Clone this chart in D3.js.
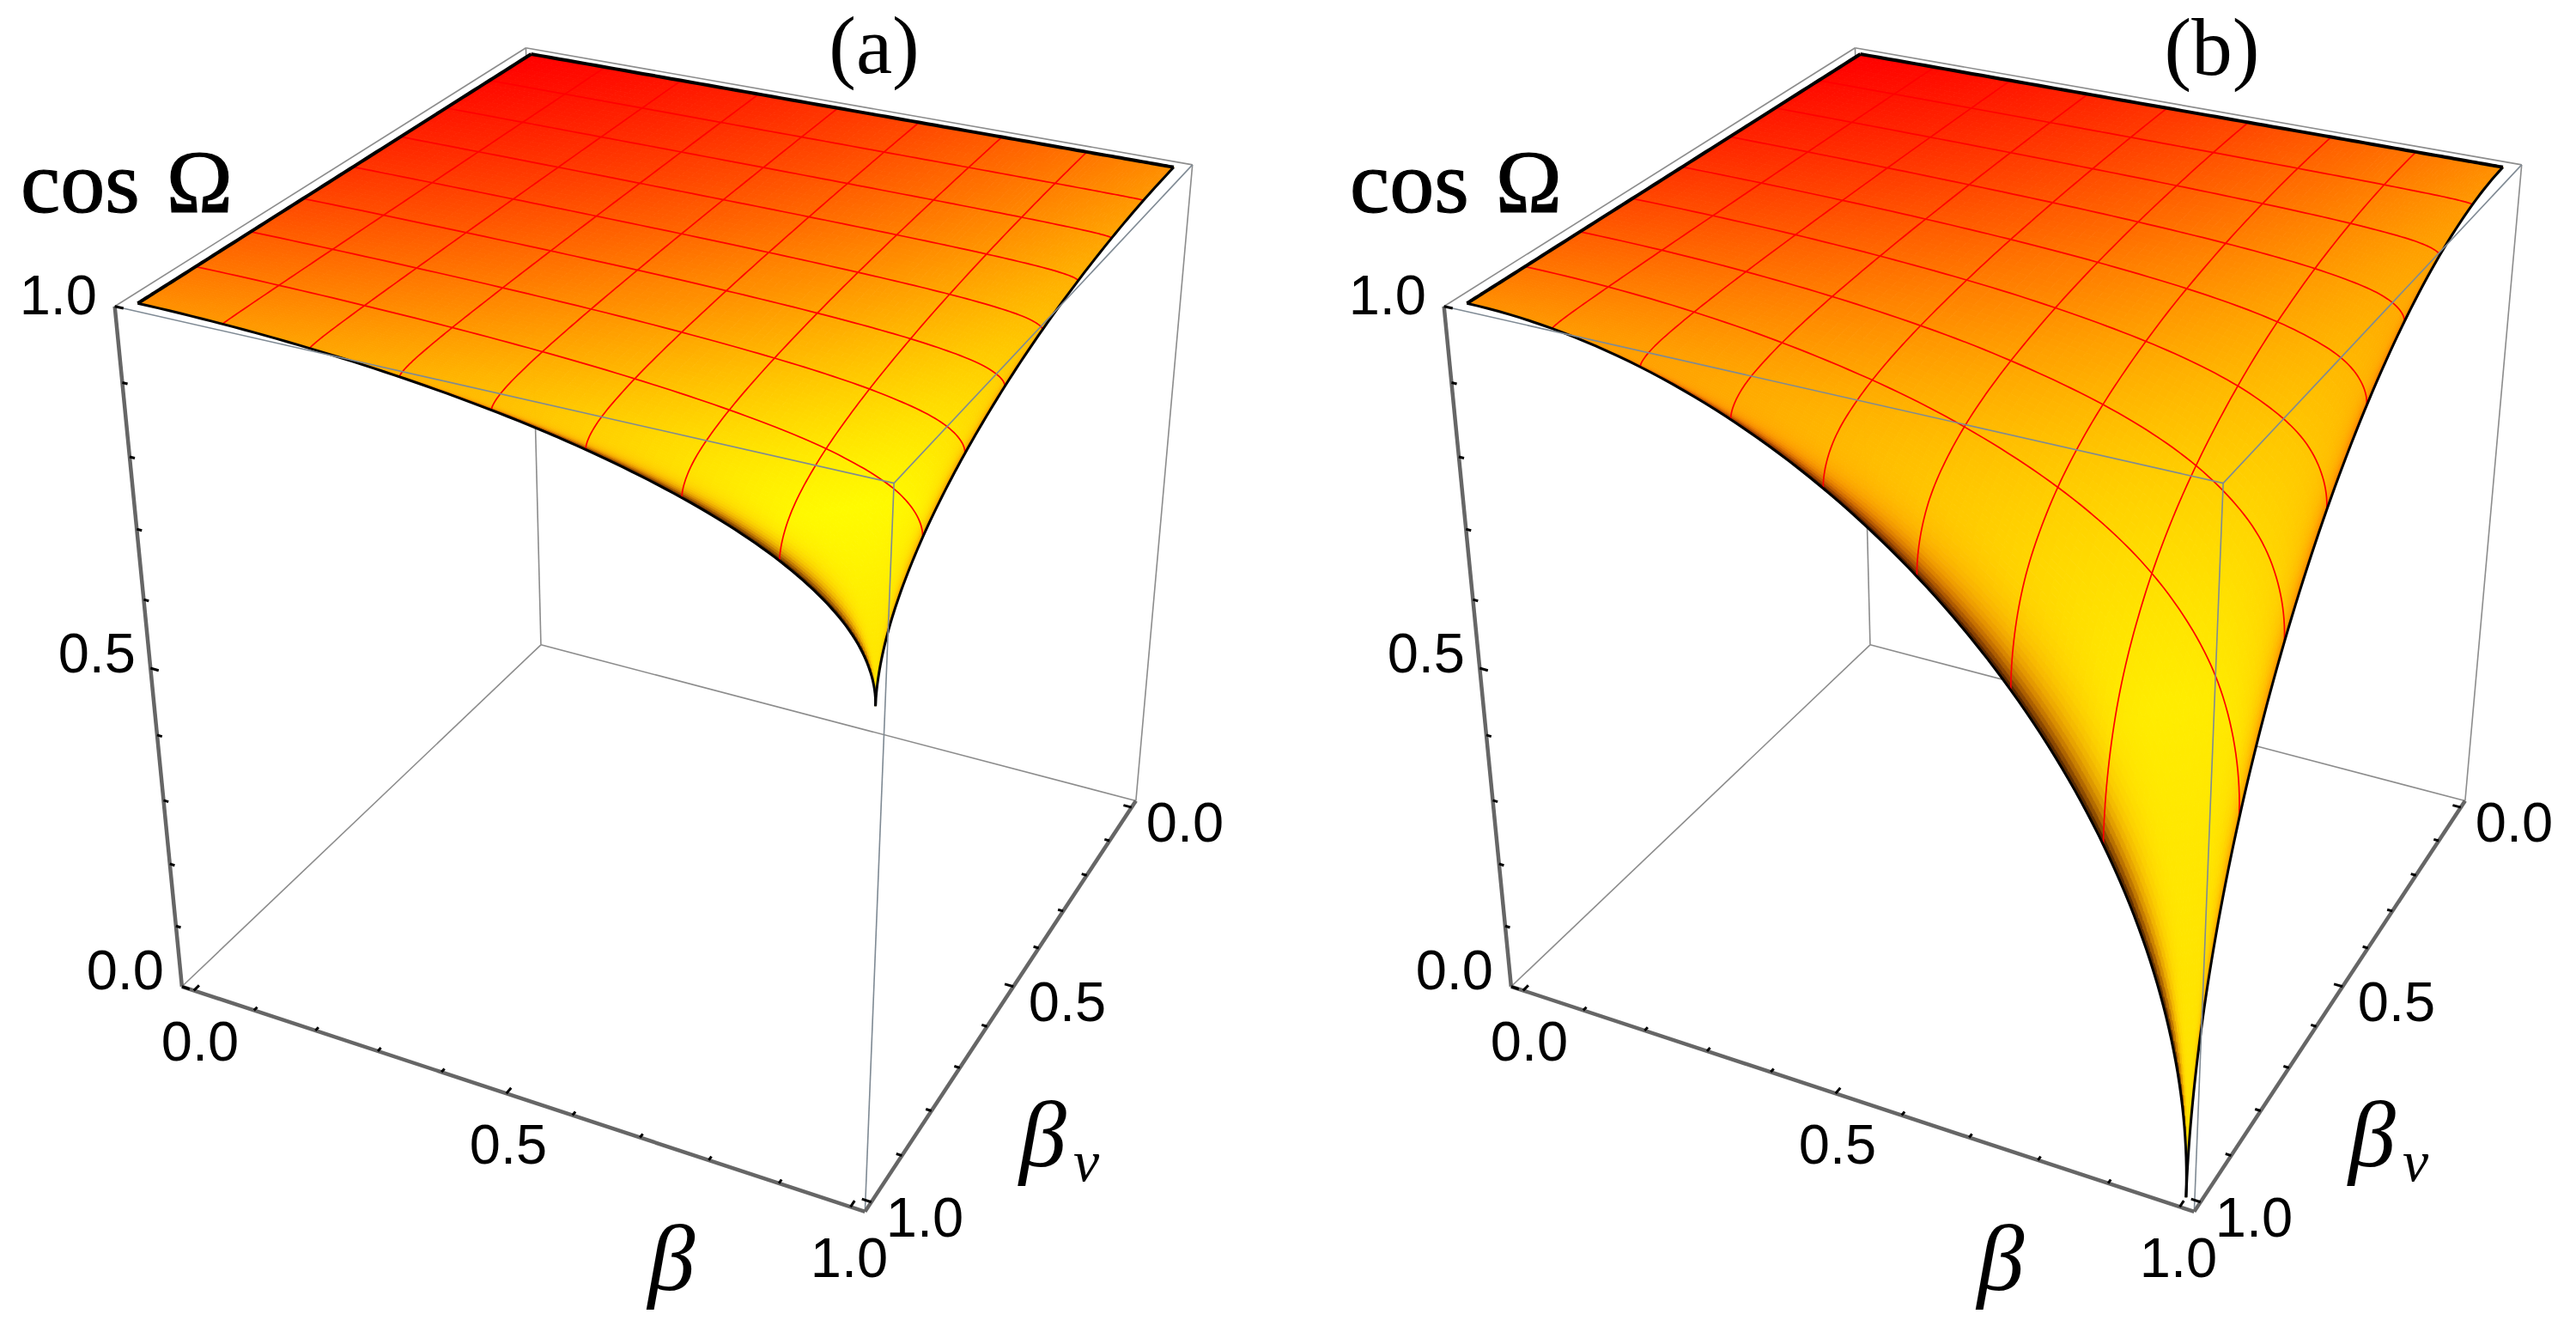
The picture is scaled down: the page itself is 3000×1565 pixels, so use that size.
<!DOCTYPE html>
<html>
<head>
<meta charset="utf-8">
<script src="https://cdn.jsdelivr.net/npm/d3@7.9.0/dist/d3.min.js"></script>
<style>
  html, body { margin: 0; padding: 0; background: #fff; }
  text { fill: #000; }
  .tick-label { font-family: "Liberation Sans", sans-serif; font-size: 65px; }
  .serif { font-family: "Liberation Serif", serif; }
  .greek { font-family: "Liberation Serif", serif; font-style: italic; }
</style>
</head>
<body>
<svg id="chart" width="3000" height="1565"></svg>
<script>
// Values
const betaGrid = [0, 0.2, 0.4, 0.6, 0.8, 0.9, 0.97, 1];
const cosOmegaA0 = [1, 1, 1, 1, 1, 1, 1, 1];
const cosOmegaA1 = [1, 0.9999, 0.9998, 0.9994, 0.9987, 0.9980, 0.9969, 0.9949];
const cosOmegaA2 = [1, 0.9998, 0.9990, 0.9976, 0.9946, 0.9916, 0.9870, 0.9789];
const cosOmegaA3 = [1, 0.9994, 0.9976, 0.9939, 0.9864, 0.9789, 0.9678, 0.9487];
const cosOmegaA4 = [1, 0.9987, 0.9946, 0.9864, 0.9701, 0.9542, 0.9316, 0.8944];
const cosOmegaA5 = [1, 0.9980, 0.9916, 0.9789, 0.9542, 0.9308, 0.8983, 0.8473];
const cosOmegaA6 = [1, 0.9969, 0.9870, 0.9678, 0.9316, 0.8983, 0.8541, 0.7884];
const cosOmegaA7 = [1, 0.9949, 0.9789, 0.9487, 0.8944, 0.8473, 0.7884, 0.7071];
const cosOmegaB0 = [1, 1, 1, 1, 1, 1, 1, 1];
const cosOmegaB1 = [1, 0.9998, 0.9991, 0.9977, 0.9949, 0.9920, 0.9877, 0.9798];
const cosOmegaB2 = [1, 0.9991, 0.9962, 0.9904, 0.9785, 0.9663, 0.9483, 0.9165];
const cosOmegaB3 = [1, 0.9977, 0.9904, 0.9756, 0.9460, 0.9164, 0.8733, 0.8000];
const cosOmegaB4 = [1, 0.9949, 0.9785, 0.9460, 0.8824, 0.8211, 0.7358, 0.6000];
const cosOmegaB5 = [1, 0.9920, 0.9663, 0.9164, 0.8211, 0.7326, 0.6139, 0.4359];
const cosOmegaB6 = [1, 0.9877, 0.9483, 0.8733, 0.7358, 0.6139, 0.4591, 0.2431];
const cosOmegaB7 = [1, 0.9798, 0.9165, 0.8000, 0.6000, 0.4359, 0.2431, 0];
const panelA = [cosOmegaA0, cosOmegaA1, cosOmegaA2, cosOmegaA3, cosOmegaA4, cosOmegaA5, cosOmegaA6, cosOmegaA7];
const panelB = [cosOmegaB0, cosOmegaB1, cosOmegaB2, cosOmegaB3, cosOmegaB4, cosOmegaB5, cosOmegaB6, cosOmegaB7];
const meshLines = [0.125, 0.25, 0.375, 0.5, 0.625, 0.75, 0.875];
const minorTicks = [0, 0.1, 0.2, 0.3, 0.4, 0.5, 0.6, 0.7, 0.8, 0.9, 1];

const svg = d3.select("#chart");

// Axis scales into the unit box; beta axes have a little padding like Mathematica
const xScale = d3.scaleLinear().domain([-0.02, 1.02]).range([0, 1]);
const yScale = d3.scaleLinear().domain([-0.02, 1.02]).range([0, 1]);
const zScale = d3.scaleLinear().domain([0, 1]).range([0, 1]);

// Where the box corners sit on the page, used to fit the camera
const boxCorners = [
  [0, 0, 1, 612, 56], [0, 1, 1, 134, 356], [1, 0, 1, 1389, 192], [1, 1, 1, 1041, 563],
  [0, 0, 0, 630, 751], [0, 1, 0, 212, 1149], [1, 0, 0, 1323, 932], [1, 1, 0, 1007, 1411]
];

function solve(A, b) {
  const n = b.length;
  const m = A.map((row, i) => [...row, b[i]]);
  for (let c = 0; c < n; c++) {
    let p = c;
    for (let r = c + 1; r < n; r++) if (Math.abs(m[r][c]) > Math.abs(m[p][c])) p = r;
    [m[c], m[p]] = [m[p], m[c]];
    for (let r = 0; r < n; r++) {
      if (r === c) continue;
      const f = m[r][c] / m[c][c];
      for (let k = c; k <= n; k++) m[r][k] -= f * m[c][k];
    }
  }
  return m.map((row, i) => row[n] / row[i]);
}

// Least squares fit of the 3x4 projection matrix
function fitCamera(points) {
  const rows = [], rhs = [];
  points.forEach(([x, y, z, u, v]) => {
    rows.push([x, y, z, 1, 0, 0, 0, 0, -u * x, -u * y, -u * z]); rhs.push(u);
    rows.push([0, 0, 0, 0, x, y, z, 1, -v * x, -v * y, -v * z]); rhs.push(v);
  });
  const AtA = d3.range(11).map(i => d3.range(11).map(j => d3.sum(rows, r => r[i] * r[j])));
  const Atb = d3.range(11).map(i => d3.sum(rows, (r, k) => r[i] * rhs[k]));
  return solve(AtA, Atb);
}
const cam = fitCamera(boxCorners);

function project(beta, betaV, z) {
  const x = xScale(beta), y = yScale(betaV), h = zScale(z);
  const w = cam[8] * x + cam[9] * y + cam[10] * h + 1;
  return [(cam[0] * x + cam[1] * y + cam[2] * h + cam[3]) / w,
          (cam[4] * x + cam[5] * y + cam[6] * h + cam[7]) / w];
}

// Smooth shading between the read values: cubic in sqrt(1 - beta^2), where the surface has no cusp
const knots = betaGrid.map(b => Math.sqrt(1 - b * b));

function hermite(values, s) {
  const n = knots.length;
  let i = 0;
  while (i < n - 2 && s < knots[i + 1]) i++;
  const slope = k => {
    const a = Math.max(k - 1, 0), b = Math.min(k + 1, n - 1);
    return (values[b] - values[a]) / (knots[b] - knots[a]);
  };
  const h = knots[i + 1] - knots[i], t = (s - knots[i]) / h;
  const t2 = t * t, t3 = t2 * t;
  return (2 * t3 - 3 * t2 + 1) * values[i] + (t3 - 2 * t2 + t) * h * slope(i)
       + (-2 * t3 + 3 * t2) * values[i + 1] + (t3 - t2) * h * slope(i + 1);
}

function surfaceAt(table, beta, betaV) {
  const s = Math.sqrt(Math.max(0, 1 - beta * beta)), sv = Math.sqrt(Math.max(0, 1 - betaV * betaV));
  return Math.min(1, hermite(table.map(row => hermite(row, sv)), s));
}

const clamp01 = v => Math.max(0, Math.min(1, v));

// Rough stand-in for the coloured lights: red to yellow across the sheet, dark where it falls towards beta_v
function faceColor(beta, betaV, dzB, dzV) {
  const len = Math.sqrt(1 + dzB * dzB + dzV * dzV);
  const tilt = (Math.abs(dzV) - Math.abs(dzB)) / len;
  let green = 255 * clamp01(0.5 * (beta + betaV) / 2 + 0.62 * (beta * beta + betaV * betaV) / 2);
  let red = 255;
  green *= 1 - 0.12 * clamp01(1 - 1 / len);
  if (tilt > 0) {
    green *= 1 - 0.5 * Math.pow(tilt, 4);
    const dark = 1 - 0.78 * Math.pow(tilt, 9);
    red *= dark; green *= dark;
  } else {
    green *= 1 - 0.35 * Math.pow(-tilt, 7);
  }
  return `rgb(${Math.round(red)},${Math.round(green)},0)`;
}

function drawPanel(id, table, dx, title, titleX, titleY) {
  const g = svg.append("g").attr("id", id).attr("transform", `translate(${dx},0)`);
  const lineGen = d3.line();
  const edge = (a, b) => lineGen([project(...a), project(...b)]);
  const lo = -0.02, hi = 1.02;

  // box edges behind the surface
  const backEdges = [
    [[lo, lo, 1], [lo, hi, 1]], [[lo, lo, 1], [hi, lo, 1]], [[lo, lo, 1], [lo, lo, 0]],
    [[lo, lo, 0], [lo, hi, 0]], [[lo, lo, 0], [hi, lo, 0]], [[hi, lo, 1], [hi, lo, 0]]
  ];
  g.append("g").selectAll("path").data(backEdges).join("path")
    .attr("d", d => edge(d[0], d[1]))
    .attr("fill", "none").attr("stroke", "#8c8c8c").attr("stroke-width", 1.6);

  // surface facets, far corner first
  const steps = 100;
  const param = d3.range(steps + 1).map(i => Math.sin(i / steps * Math.PI / 2));
  const grid = param.map(b => param.map(v => surfaceAt(table, b, v)));
  const faces = [];
  for (let i = 0; i < steps; i++) {
    for (let j = 0; j < steps; j++) faces.push({ i, j });
  }
  faces.sort((a, b) => (a.i + a.j) - (b.i + b.j));
  g.append("g").selectAll("path").data(faces).join("path")
    .attr("d", ({ i, j }) => lineGen([
      project(param[i], param[j], grid[i][j]),
      project(param[i + 1], param[j], grid[i + 1][j]),
      project(param[i + 1], param[j + 1], grid[i + 1][j + 1]),
      project(param[i], param[j + 1], grid[i][j + 1])
    ]) + "Z")
    .each(function ({ i, j }) {
      const dzB = (grid[i + 1][j] - grid[i][j]) / (param[i + 1] - param[i]);
      const dzV = (grid[i][j + 1] - grid[i][j]) / (param[j + 1] - param[j]);
      const c = faceColor((param[i] + param[i + 1]) / 2, (param[j] + param[j + 1]) / 2, dzB, dzV);
      d3.select(this).attr("fill", c).attr("stroke", c).attr("stroke-width", 0.9);
    });

  // mesh lines and boundary
  const sample = param;
  const curve = (fixed, alongBeta) => lineGen(sample.map(p => alongBeta
    ? project(p, fixed, surfaceAt(table, p, fixed))
    : project(fixed, p, surfaceAt(table, fixed, p))));
  const mesh = g.append("g").attr("fill", "none").attr("stroke", "#ff0000").attr("stroke-width", 1.7);
  meshLines.forEach(m => {
    mesh.append("path").attr("d", curve(m, true));
    mesh.append("path").attr("d", curve(m, false));
  });
  const rim = g.append("g").attr("fill", "none").attr("stroke", "#000").attr("stroke-linejoin", "round");
  rim.append("path").attr("d", curve(0, true)).attr("stroke-width", 4);
  rim.append("path").attr("d", curve(0, false)).attr("stroke-width", 4);
  rim.append("path").attr("d", curve(1, true)).attr("stroke-width", 3);
  rim.append("path").attr("d", curve(1, false)).attr("stroke-width", 3);

  // box edges in front of the surface
  const frontEdges = [
    [[lo, hi, 1], [hi, hi, 1]], [[hi, lo, 1], [hi, hi, 1]], [[hi, hi, 1], [hi, hi, 0]]
  ];
  g.append("g").selectAll("path").data(frontEdges).join("path")
    .attr("d", d => edge(d[0], d[1]))
    .attr("fill", "none").attr("stroke", "#7f8a94").attr("stroke-width", 1.6);

  // the three axes
  const axes = [
    [[lo, hi, 1], [lo, hi, 0]], [[lo, hi, 0], [hi, hi, 0]], [[hi, hi, 0], [hi, lo, 0]]
  ];
  g.append("g").selectAll("path").data(axes).join("path")
    .attr("d", d => edge(d[0], d[1]))
    .attr("fill", "none").attr("stroke", "#666").attr("stroke-width", 4.5);

  // tick marks
  const tickGroup = g.append("g").attr("stroke", "#000").attr("stroke-width", 3);
  minorTicks.forEach(t => {
    const major = t === 0 || t === 0.5 || t === 1;
    const len = major ? 0.013 : 0.008;
    tickGroup.append("path").attr("d", edge([lo, hi, t], [lo + len, hi, t]));
    tickGroup.append("path").attr("d", edge([t, hi, 0], [t, hi - len, 0]));
    tickGroup.append("path").attr("d", edge([hi, t, 0], [hi - len, t, 0]));
  });

  // tick labels
  const labels = [
    ["1.0", 113, 366, "end"], ["0.5", 158, 783, "end"], ["0.0", 191, 1152, "end"],
    ["0.0", 233, 1235, "middle"], ["0.5", 592, 1355, "middle"], ["1.0", 989, 1487, "middle"],
    ["0.0", 1380, 980, "middle"], ["0.5", 1243, 1189, "middle"], ["1.0", 1077, 1440, "middle"]
  ];
  g.append("g").selectAll("text").data(labels).join("text")
    .attr("class", "tick-label")
    .attr("x", d => d[1]).attr("y", d => d[2]).attr("text-anchor", d => d[3])
    .text(d => d[0]);

  // axis titles
  g.append("text").attr("class", "serif").attr("x", 24).attr("y", 247)
    .attr("font-size", 104).attr("word-spacing", 5).style("stroke", "#000").style("stroke-width", 1.2)
    .text("cos Ω");
  g.append("text").attr("class", "greek").attr("x", 782).attr("y", 1502)
    .attr("text-anchor", "middle").attr("font-size", 110).text("β");
  g.append("text").attr("class", "greek").attr("x", 1187).attr("y", 1358)
    .attr("font-size", 110).text("β");
  g.append("text").attr("class", "greek").attr("x", 1250).attr("y", 1375)
    .attr("font-size", 68).text("v");

  svg.append("text").attr("class", "serif").attr("x", titleX).attr("y", titleY)
    .attr("text-anchor", "middle").attr("font-size", 95).text(title);
}

drawPanel("panel-a", panelA, 0, "(a)", 1018, 85);
drawPanel("panel-b", panelB, 1548, "(b)", 2576, 87);
</script>
</body>
</html>
